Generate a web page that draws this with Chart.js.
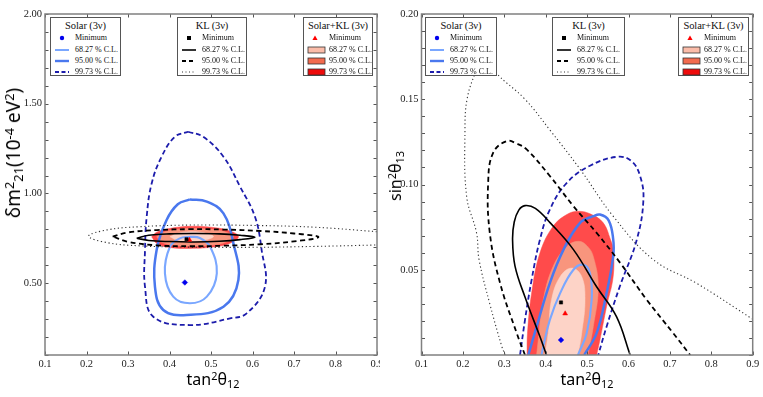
<!DOCTYPE html>
<html><head><meta charset="utf-8">
<script src="https://cdn.jsdelivr.net/npm/chart.js@4.4.0/dist/chart.umd.min.js"></script>
<style>
html,body{margin:0;padding:0;background:#fff;width:763px;height:397px;overflow:hidden;position:relative;}
.pane{position:absolute;top:0;height:397px;overflow:hidden;}
.lg{position:absolute;background:#fff;border:1.3px solid #555;box-sizing:border-box;font-family:"Liberation Serif","Times New Roman",serif;color:#111;z-index:5;}
.lg .t{position:absolute;left:0;right:0;top:1px;text-align:center;font-size:10.5px;line-height:14px;letter-spacing:-0.1px;}
.lg .r{position:absolute;left:0;right:0;height:10px;font-size:8px;line-height:10px;}
.lg .r svg{position:absolute;left:3px;top:0;}
.lg .r span{position:absolute;top:0;}
.ax{position:absolute;font-family:"Noto Sans","DejaVu Sans",sans-serif;font-size:16px;color:#000;white-space:nowrap;z-index:5;line-height:20px;}
.ax sup{font-size:0.68em;vertical-align:0.5em;line-height:0;}
.ax sub{font-size:0.68em;vertical-align:-0.25em;line-height:0;}
</style></head>
<body>
<div class="pane" id="pl" style="left:0;width:380px;"><canvas id="cl" width="400" height="397"></canvas></div>
<div class="pane" id="pr" style="left:380px;width:383px;"><canvas id="cr" width="383" height="397"></canvas></div>

<div class="ax" style="left:13px;top:153px;font-size:19px;transform:translate(-50%,-50%) rotate(-90deg);">δm<sup>2</sup><sub>21</sub>(10<sup>-4</sup> eV<sup>2</sup>)</div>
<div class="ax" style="left:213px;top:379px;transform:translate(-50%,-50%);">tan<sup>2</sup>θ<sub>12</sub></div>
<div class="ax" style="left:395px;top:176px;transform:translate(-50%,-50%) rotate(-90deg);">sin<sup>2</sup>θ<sub>13</sub></div>
<div class="ax" style="left:587px;top:379px;transform:translate(-50%,-50%);">tan<sup>2</sup>θ<sub>12</sub></div>

<script>
// ---------------- tick labels ----------------
const xTicks = [0.1, 0.2, 0.3, 0.4, 0.5, 0.6, 0.7, 0.8, 0.9];
const yTicksLeft = [0.5, 1.0, 1.5, 2.0];
const yTicksRight = [0.05, 0.10, 0.15, 0.20];
const legendTitles = ["Solar (3ν)", "KL (3ν)", "Solar+KL (3ν)"];
const legendRows = ["Minimum", "68.27 % C.L.", "95.00 % C.L.", "99.73 % C.L."];

// ---------------- LEFT PANEL: tan^2θ12 vs δm^2_21 ----------------
const L_solarMin = [[0.437, 0.504]];
const L_klMin = [[0.441, 0.745]];
const L_combMin = [[0.448, 0.741]];

const L_solar68 = [[0.449,0.759],[0.473,0.752],[0.498,0.703],[0.514,0.555],[0.49,0.425],[0.449,0.388],[0.409,0.425],[0.389,0.555],[0.401,0.703],[0.425,0.750],[0.449,0.759]];
const L_solar95 = [[0.449,0.967],[0.49,0.955],[0.53,0.889],[0.554,0.722],[0.566,0.518],[0.53,0.369],[0.441,0.323],[0.385,0.351],[0.365,0.48],[0.369,0.685],[0.393,0.852],[0.42,0.940],[0.449,0.967]];
const L_solar99 = [[0.445,1.344],[0.481,1.316],[0.53,1.205],[0.57,1.038],[0.606,0.87],[0.622,0.685],[0.630,0.48],[0.586,0.332],[0.546,0.304],[0.449,0.267],[0.361,0.313],[0.341,0.48],[0.341,0.685],[0.345,0.87],[0.357,1.056],[0.381,1.205],[0.413,1.316],[0.445,1.344]];

const L_kl68 = [[0.321,0.751],[0.35,0.767],[0.40,0.775],[0.46,0.777],[0.52,0.775],[0.57,0.767],[0.606,0.756],[0.57,0.743],[0.52,0.734],[0.46,0.730],[0.40,0.732],[0.35,0.738],[0.321,0.751]];
const L_kl95 = [[0.263,0.760],[0.30,0.783],[0.37,0.796],[0.45,0.801],[0.53,0.799],[0.62,0.791],[0.70,0.777],[0.759,0.757],[0.70,0.733],[0.62,0.717],[0.53,0.709],[0.45,0.706],[0.37,0.711],[0.30,0.731],[0.263,0.760]];
const L_kl99 = [[0.9,0.787],[0.75,0.812],[0.60,0.822],[0.45,0.824],[0.33,0.815],[0.25,0.797],[0.205,0.762],[0.25,0.726],[0.33,0.708],[0.45,0.701],[0.60,0.700],[0.75,0.705],[0.9,0.713]];

const L_comb99 = [[0.357,0.759],[0.37,0.785],[0.40,0.805],[0.449,0.817],[0.50,0.812],[0.54,0.795],[0.566,0.762],[0.55,0.727],[0.51,0.703],[0.449,0.694],[0.40,0.699],[0.37,0.720],[0.357,0.759]];
const L_comb95 = [[0.369,0.759],[0.385,0.783],[0.42,0.800],[0.449,0.805],[0.50,0.800],[0.535,0.785],[0.554,0.760],[0.535,0.728],[0.50,0.712],[0.449,0.707],[0.41,0.712],[0.38,0.730],[0.369,0.759]];
const L_comb68 = [[0.401,0.759],[0.42,0.778],[0.449,0.787],[0.48,0.782],[0.506,0.760],[0.48,0.738],[0.449,0.731],[0.42,0.738],[0.401,0.759]];

// ---------------- RIGHT PANEL: tan^2θ12 vs sin^2θ13 ----------------
const R_solarMin = [[0.437, 0.0088]];
const R_klMin = [[0.437, 0.0308]];
const R_combMin = [[0.447, 0.0243]];

const R_solar68 = [[0.39,0],[0.394,0.0049],[0.41,0.0206],[0.435,0.0363],[0.467,0.050],[0.491,0.0529],[0.507,0.048],[0.511,0.0324],[0.499,0.0128],[0.478,0]];
const R_solar95 = [[0.358,0],[0.378,0.0166],[0.41,0.0422],[0.443,0.0618],[0.483,0.0775],[0.515,0.0814],[0.531,0.0824],[0.552,0.079],[0.563,0.068],[0.563,0.0578],[0.547,0.0363],[0.523,0.0128],[0.493,0]];
const R_solar99 = [[0.338,0],[0.35,0.0206],[0.366,0.0441],[0.386,0.0676],[0.41,0.0853],[0.451,0.101],[0.507,0.111],[0.575,0.1163],[0.608,0.1135],[0.628,0.105],[0.636,0.091],[0.62,0.0676],[0.579,0.0402],[0.547,0.0166],[0.527,0]];

const R_kl68 = [[0.402,0],[0.386,0.0108],[0.35,0.034],[0.326,0.052],[0.32,0.0676],[0.324,0.078],[0.335,0.085],[0.35,0.0876],[0.375,0.086],[0.411,0.0775],[0.467,0.0618],[0.523,0.040],[0.571,0.0225],[0.604,0]];
const R_kl95 = [[0.35,0],[0.33,0.0128],[0.29,0.042],[0.265,0.0716],[0.261,0.101],[0.273,0.1186],[0.306,0.1255],[0.33,0.124],[0.354,0.1206],[0.41,0.105],[0.467,0.0873],[0.523,0.0716],[0.58,0.054],[0.644,0.0324],[0.708,0.0128],[0.749,0]];
const R_kl99 = [[0.302,0],[0.294,0.005],[0.265,0.030],[0.239,0.056],[0.233,0.0716],[0.209,0.093],[0.205,0.132],[0.21,0.150],[0.229,0.165],[0.25,0.176],[0.282,0.165],[0.35,0.150],[0.41,0.132],[0.483,0.109],[0.563,0.0814],[0.66,0.0559],[0.765,0.042],[0.9,0.021]];

const R_comb99 = [[0.355,0],[0.356,0.0128],[0.366,0.0363],[0.386,0.0598],[0.418,0.0755],[0.451,0.0824],[0.479,0.0843],[0.51,0.0825],[0.539,0.0775],[0.556,0.068],[0.563,0.0618],[0.563,0.046],[0.547,0.0284],[0.531,0.0088],[0.523,0]];
const R_comb95 = [[0.378,0],[0.382,0.0088],[0.394,0.0324],[0.418,0.052],[0.451,0.0637],[0.479,0.0667],[0.50,0.064],[0.515,0.0578],[0.527,0.040],[0.515,0.0166],[0.502,0]];
const R_comb68 = [[0.398,0],[0.406,0.0128],[0.414,0.0324],[0.435,0.046],[0.463,0.051],[0.487,0.046],[0.495,0.0324],[0.487,0.0128],[0.478,0]];

// ---------------- styles ----------------
const C = {
  s68:'#7aa7ff', s95:'#4a78ee', s99:'#1c1cab',
  k:'#000000', kDot:'#333333',
  f68:'#fdd3c7', f95:'#f8957d', f99:'#ff4b4b',
  l68:'#fbbca9', l95:'#f26a4e', l99:'#ee0b0b'
};
const P = a => a.map(([x,y]) => ({x, y}));
function line(d, color, w, dash){
  return {data:P(d), showLine:true, borderColor:color, borderWidth:w, borderDash:dash||[], pointRadius:0, tension:0.4, fill:false, clip:0};
}
function area(d, color){
  return {data:P(d), showLine:true, borderColor:color, borderWidth:0.5, backgroundColor:color, pointRadius:0, tension:0.4, fill:'shape', clip:0};
}
function marker(d, style, color, r){
  return {data:P(d), showLine:false, pointStyle:style, pointRadius:r, backgroundColor:color, borderColor:color, borderWidth:0.5, clip:0};
}
function datasets(s){
  return [
    marker(s.sMin,'rectRot','#0000ee',2.8),
    marker(s.kMin,'rect','#000',2.3),
    marker(s.cMin,'triangle','#ff0000',2.8),
    line(s.k68, C.k, 1.6),
    line(s.k95, C.k, 1.8, [5,3.5]),
    line(s.k99, C.kDot, 1.1, [1.2,2.6]),
    line(s.s68, C.s68, 2.1),
    line(s.s95, C.s95, 2.5),
    line(s.s99, C.s99, 1.8, [5,3]),
    area(s.c68, C.f68),
    area(s.c95, C.f95),
    area(s.c99, C.f99)
  ];
}

const framePlugin = {
  id:'frame',
  afterDatasetsDraw(chart, args, opts){
    const {ctx, chartArea:a} = chart;
    const x = chart.scales.x, y = chart.scales.y;
    ctx.save();
    ctx.strokeStyle = '#555'; ctx.lineWidth = 1;
    ctx.beginPath();
    xTicks.forEach(v => {
      const px = Math.round(x.getPixelForValue(v)) + 0.5;
      ctx.moveTo(px, a.bottom); ctx.lineTo(px, a.bottom - 3.5);
      ctx.moveTo(px, a.top); ctx.lineTo(px, a.top + 3.5);
    });
    for (let i = 0; ; i++) {
      const v = opts.yStart + i * opts.yStep;
      if (v > y.max + 1e-9) break;
      const py = Math.round(y.getPixelForValue(v)) + 0.5;
      ctx.moveTo(a.left, py); ctx.lineTo(a.left + 3.5, py);
      ctx.moveTo(a.right, py); ctx.lineTo(a.right - 3.5, py);
    }
    ctx.stroke();
    ctx.strokeStyle = '#808080'; ctx.lineWidth = 1.5;
    ctx.strokeRect(a.left, a.top, a.right - a.left, a.bottom - a.top);
    ctx.restore();
  }
};

const tickFont = {family:'"Liberation Serif","Times New Roman",serif', size:10.5};
function makeChart(id, s, cfg){
  return new Chart(document.getElementById(id), {
    type:'line',
    data:{datasets:datasets(s)},
    options:{
      responsive:false, animation:false, normalized:false,
      layout:{padding:{left:0, top:14, right:cfg.padRight, bottom:0}},
      plugins:{legend:{display:false}, tooltip:{enabled:false}, frame:{yStart:cfg.yMin, yStep:cfg.yMinor}},
      scales:{
        x:{type:'linear', min:0.1, max:0.9,
           grid:{display:false, drawTicks:false}, border:{display:false},
           afterBuildTicks:sc => { sc.ticks = xTicks.map(v => ({value:v})); },
           afterFit:sc => { sc.height = 42; },
           ticks:{color:'#222', font:tickFont, padding:3, maxRotation:0, autoSkip:false, callback:v => v.toFixed(1)}},
        y:{type:'linear', min:cfg.yMin, max:cfg.yMax,
           grid:{display:false, drawTicks:false}, border:{display:false},
           afterBuildTicks:sc => { sc.ticks = cfg.yTicks.map(v => ({value:v})); },
           afterFit:sc => { sc.width = cfg.yWidth; },
           ticks:{color:'#222', font:tickFont, padding:3, autoSkip:false, callback:v => v.toFixed(2)}}
      }
    },
    plugins:[framePlugin]
  });
}

makeChart('cl', {sMin:L_solarMin,kMin:L_klMin,cMin:L_combMin,s68:L_solar68,s95:L_solar95,s99:L_solar99,k68:L_kl68,k95:L_kl95,k99:L_kl99,c68:L_comb68,c95:L_comb95,c99:L_comb99},
  {yMin:0.1, yMax:2.0, yMinor:0.1, yTicks:yTicksLeft, yWidth:45, padRight:23});
makeChart('cr', {sMin:R_solarMin,kMin:R_klMin,cMin:R_combMin,s68:R_solar68,s95:R_solar95,s99:R_solar99,k68:R_kl68,k95:R_kl95,k99:R_kl99,c68:R_comb68,c95:R_comb95,c99:R_comb99},
  {yMin:0, yMax:0.2, yMinor:0.01, yTicks:yTicksRight, yWidth:41.5, padRight:10.3});

// ---------------- legends (HTML) ----------------
function svgLine(color, w, dash){
  return `<svg width="16" height="10"><line x1="1" y1="5" x2="15" y2="5" stroke="${color}" stroke-width="${w}" ${dash?`stroke-dasharray="${dash}"`:''}/></svg>`;
}
function svgMarker(kind){
  if (kind==='dot') return `<svg width="16" height="10"><circle cx="8" cy="5" r="2.2" fill="#0000ee"/></svg>`;
  if (kind==='sq') return `<svg width="16" height="10"><rect x="6" y="3" width="4" height="4" fill="#000"/></svg>`;
  return `<svg width="16" height="10"><polygon points="8,2.5 10.6,7 5.4,7" fill="#ff0000"/></svg>`;
}
function svgBox(color){
  return `<svg width="19" height="10"><rect x="1" y="2" width="17" height="6" fill="${color}" stroke="#333" stroke-width="0.8"/></svg>`;
}
function legend(left, width, title, syms, textLeft){
  const d = document.createElement('div');
  d.className = 'lg';
  d.style.cssText = `left:${left}px;top:17px;width:${width}px;height:59px;`;
  let h = `<div class="t">${title}</div>`;
  const tops = [15, 26.5, 37.5, 48.5];
  legendRows.forEach((r, i) => {
    h += `<div class="r" style="top:${tops[i]}px">${syms[i]}<span style="left:${textLeft}px">${r}</span></div>`;
  });
  d.innerHTML = h;
  document.body.appendChild(d);
}
const symSolar = [svgMarker('dot'), svgLine(C.s68,2), svgLine(C.s95,2.4), svgLine(C.s99,1.8,'4,2.5')];
const symKL = [svgMarker('sq'), svgLine('#000',1.6), svgLine('#000',1.8,'4,3'), svgLine('#333',1,'1,2.5')];
const symComb = [svgMarker('tri'), svgBox(C.l68), svgBox(C.l95), svgBox(C.l99)];
[[50,71],[177,70],[303,70]].forEach(([l,w],i) => legend(l, w, legendTitles[i], [symSolar,symKL,symComb][i], i===2?25:24));
[[425,72],[552,73],[678,71]].forEach(([l,w],i) => legend(l, w, legendTitles[i], [symSolar,symKL,symComb][i], i===2?25:24));
</script>
</body></html>
